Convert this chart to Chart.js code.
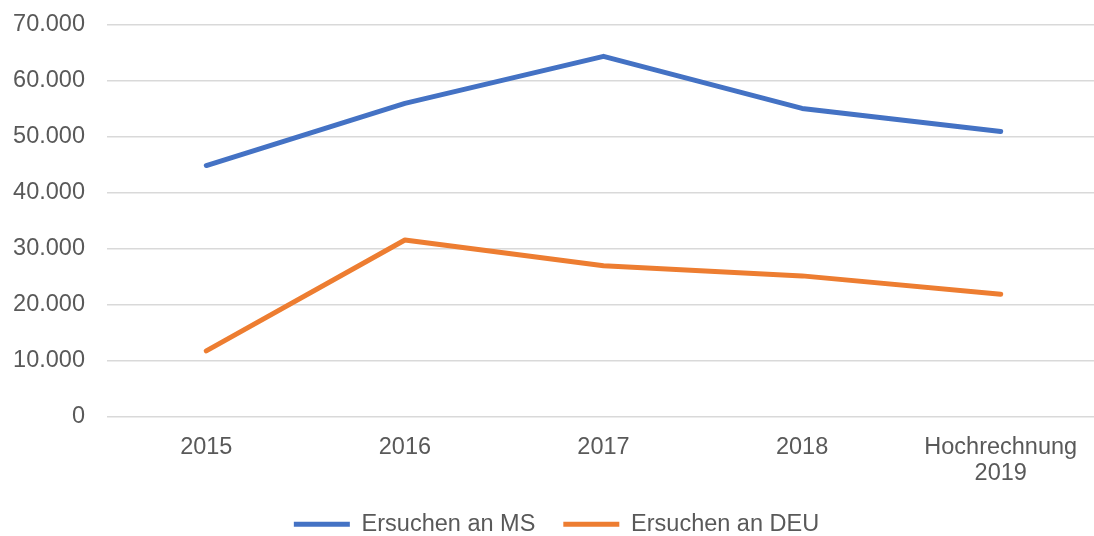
<!DOCTYPE html>
<html lang="de">
<head>
<meta charset="utf-8">
<title>Ersuchen an MS / DEU</title>
<script src="https://cdn.jsdelivr.net/npm/chart.js@4.4.1/dist/chart.umd.min.js"></script>
<style>
  html, body { margin: 0; padding: 0; background: #fff; overflow: hidden; }
  #wrap { width: 1100px; height: 546px; }
</style>
</head>
<body>
<div id="wrap"><canvas id="chart" width="1100" height="546"></canvas></div>
<script>
  "use strict";

  const categories = ["2015", "2016", "2017", "2018", ["Hochrechnung", "2019"]];
  const seriesNames = ["Ersuchen an MS", "Ersuchen an DEU"];
  const ersuchenMS = [44900, 56000, 64400, 55100, 51000];
  const ersuchenDEU = [11800, 31600, 27000, 25200, 21900];
  const yTicks = [0, 10000, 20000, 30000, 40000, 50000, 60000, 70000];

  const TEXT_COLOR = "#595959";
  const GRID_COLOR = "#d9d9d9";
  const FONT_FAMILY = "'Liberation Sans', Arial, sans-serif";
  const FONT_SIZE = 23.5;

  function formatDe(v) {
    return String(v).replace(/\B(?=(\d{3})+(?!\d))/g, ".");
  }

  function lineDataset(label, data, color) {
    return {
      label,
      data,
      borderColor: color,
      backgroundColor: color,
      borderWidth: 5,
      borderCapStyle: "round",
      borderJoinStyle: "round",
      tension: 0,
      pointRadius: 0,
      pointHoverRadius: 0,
      fill: false,
    };
  }

  Chart.defaults.font.family = FONT_FAMILY;
  Chart.defaults.font.size = FONT_SIZE;
  Chart.defaults.color = TEXT_COLOR;

  new Chart(document.getElementById("chart"), {
    type: "line",
    data: {
      labels: categories,
      datasets: [
        lineDataset(seriesNames[0], ersuchenMS, "#4472c4"),
        lineDataset(seriesNames[1], ersuchenDEU, "#ed7d31"),
      ],
    },
    options: {
      responsive: false,
      animation: false,
      events: [],
      layout: { padding: { top: 25, left: 13, right: 0, bottom: 0 } },
      plugins: {
        tooltip: { enabled: false },
        legend: {
          position: "bottom",
          labels: {
            usePointStyle: true,
            pointStyle: "line",
            pointStyleWidth: 56,
            padding: 28,
            color: TEXT_COLOR,
            font: { size: FONT_SIZE, family: FONT_FAMILY },
          },
        },
      },
      scales: {
        x: {
          offset: true,
          grid: { display: false, drawTicks: false },
          border: { display: false },
          ticks: {
            padding: 18,
            maxRotation: 0,
            autoSkip: false,
            color: TEXT_COLOR,
            font: { size: FONT_SIZE, lineHeight: 1.1 },
          },
          afterFit(scale) {
            scale.height = 67.5;
          },
        },
        y: {
          min: 0,
          max: 70000,
          afterBuildTicks(scale) {
            scale.ticks = yTicks.map((v) => ({ value: v }));
          },
          grid: { color: GRID_COLOR, lineWidth: 1.6, drawTicks: false },
          border: { display: false },
          ticks: {
            padding: 22,
            color: TEXT_COLOR,
            font: { size: FONT_SIZE, lineHeight: 1.1 },
            callback: (v) => formatDe(v),
          },
          afterFit(scale) {
            scale.width = 94;
            scale.paddingTop = 0;
            scale.paddingBottom = 0;
          },
        },
      },
    },
  });
</script>
</body>
</html>
